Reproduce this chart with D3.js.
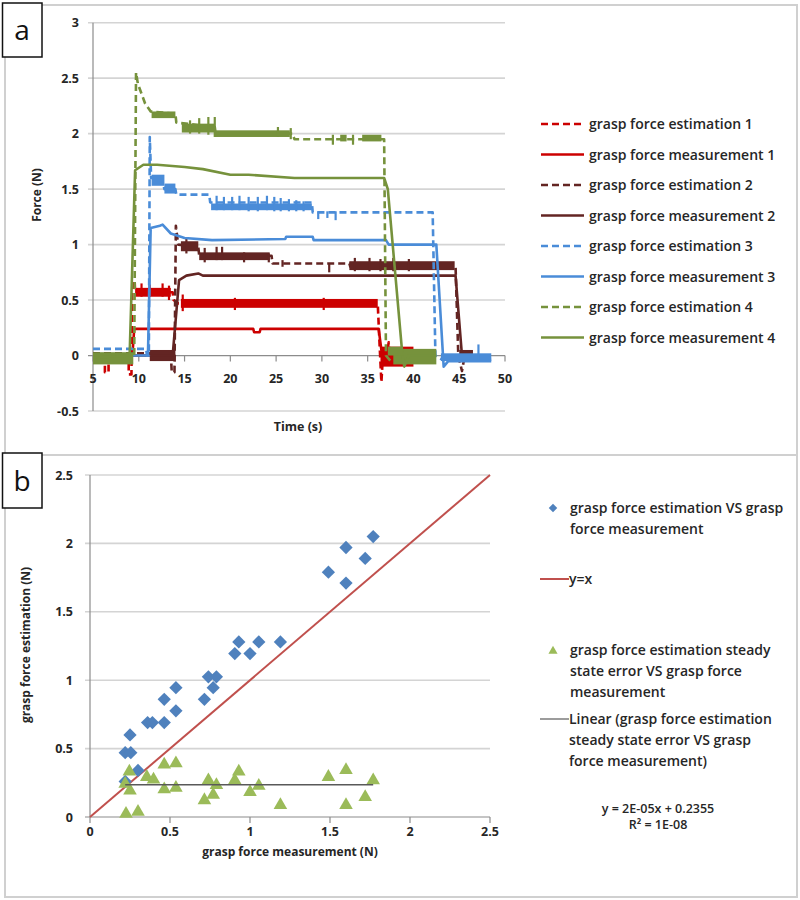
<!DOCTYPE html>
<html><head><meta charset="utf-8">
<script src="https://cdn.jsdelivr.net/npm/d3@7"></script>
<style>body{margin:0;background:#fff}svg{display:block}text{font-family:"Open Sans","Liberation Sans",sans-serif}</style>
</head><body><svg id="c" width="800" height="900"></svg>
<script>
// ---------- Panel a data ----------
const timeTicks = [5,10,15,20,25,30,35,40,45,50];
const forceTicks = [-0.5,0,0.5,1,1.5,2,2.5,3];
const seriesNames = ["grasp force estimation 1","grasp force measurement 1","grasp force estimation 2","grasp force measurement 2","grasp force estimation 3","grasp force measurement 3","grasp force estimation 4","grasp force measurement 4"];
const seriesColors = ["#CC0000","#CC0000","#632523","#632523","#4A8CD8","#4A8CD8","#76923C","#76923C"];
const seriesDashed = [true,false,true,false,true,false,true,false];

const est1 = [[5,0],[6.3,0],[6.3,-0.15],[6.7,-0.15],[6.7,0],[8.9,0],[8.9,-0.17],[9.2,-0.17],[9.3,0.67],[9.55,0.67],[9.6,0.57],[13.7,0.57],[13.8,0.5],[14.3,0.47],[36.1,0.47],[36.3,0.1],[36.5,-0.24],[36.7,0.05],[37,-0.05],[37.3,0.12],[37.6,-0.1],[38,0.05],[38.4,-0.05],[38.8,0.08],[39.2,-0.08],[39.6,0.05],[40,0]];
const meas1 = [[5,0],[9.3,0],[9.5,0.24],[22.5,0.24],[22.6,0.21],[23.2,0.21],[23.3,0.24],[36.2,0.24],[36.5,0.05],[37,0],[37.5,-0.05],[38,0.05],[38.5,-0.03],[39,0.06],[40,0.03]];
const est2 = [[5,0.02],[13.5,0.02],[13.6,-0.15],[13.9,-0.15],[14.05,1.17],[14.3,1.0],[16.5,0.98],[16.6,0.9],[24.5,0.9],[24.6,0.83],[33,0.83],[33.1,0.8],[44.6,0.8],[44.9,0],[45.3,-0.14],[45.6,0],[48,-0.03]];
const meas2 = [[5,0],[13.7,0],[14.4,0.68],[15.2,0.72],[16.5,0.74],[17,0.72],[44.6,0.72],[45.3,0],[45.6,-0.04],[48.2,-0.04]];
const est3 = [[5,0.06],[10.8,0.06],[10.9,0],[11.1,0],[11.2,1.97],[11.35,1.6],[12.5,1.6],[12.8,1.5],[14,1.5],[14.1,1.45],[17.7,1.45],[17.8,1.38],[28.9,1.38],[29,1.29],[42.1,1.29],[42.4,0],[43,-0.03],[48.5,-0.03]];
const meas3 = [[5,0],[11,0],[11.3,1.15],[12.3,1.17],[12.6,1.18],[13.5,1.1],[15,1.06],[18,1.04],[26,1.05],[26.1,1.07],[29,1.07],[29.1,1.04],[37,1.04],[37.3,1.0],[42.5,1.0],[43.3,-0.1],[43.8,-0.05],[48.5,-0.05]];
const est4 = [[5,-0.02],[9.5,-0.02],[9.7,2.55],[9.9,2.45],[10.3,2.36],[10.7,2.27],[11.3,2.2],[14,2.18],[14.1,2.1],[18.3,2.06],[18.4,2.0],[26.8,2.0],[27,1.95],[36.8,1.95],[37,0],[37.5,-0.05],[42.5,0]];
const meas4 = [[5,-0.02],[9.0,0],[9.6,1.67],[10.5,1.72],[12,1.72],[15,1.70],[17,1.68],[20,1.63],[22,1.63],[27,1.60],[36.8,1.60],[37.2,1.5],[38.8,0],[39,-0.1],[39.5,0],[42.5,0]];
const seriesData = [est1,meas1,est2,meas2,est3,meas3,est4,meas4];

// noisy bands: [seriesIndex, tStart, tEnd, low, high]
const noiseBands = [
  [0,9.6,13.5,0.53,0.61],[0,14.6,36.1,0.43,0.51],[0,36.4,40,-0.1,0.08],
  [2,11.2,14,-0.05,0.05],[2,14.6,16.5,0.94,1.03],[2,16.6,24.3,0.86,0.93],[2,33,44.5,0.77,0.85],[2,45,46.5,-0.05,0.05],
  [4,11.4,12.8,1.53,1.63],[4,12.8,14,1.46,1.55],[4,17.9,28.9,1.31,1.37],[4,43,48.5,-0.05,0.02],
  [6,5,9.4,-0.08,0.03],[6,11.4,14,2.14,2.2],[6,14.7,18.3,2.01,2.09],[6,18.3,26.5,1.97,2.03],[6,32,32.7,1.93,1.99],[6,34.4,36.5,1.93,1.99],[6,37.8,42.5,-0.08,0.06],
  [7,37.2,38.8,0,0.08]
];
// noise spikes: [seriesIndex, t, low, high]
const noiseSpikes = [
  [0,10.3,0.53,0.65],[0,11.2,0.53,0.64],[0,12.6,0.53,0.65],[0,13.3,0.5,0.63],[0,14.8,0.4,0.55],[0,20.5,0.41,0.52],[0,30.2,0.41,0.52],
  [2,15.2,0.92,1.06],[2,17.2,0.84,0.97],[2,18.5,0.86,0.98],[2,19.1,0.86,0.98],[2,21.5,0.84,0.93],[2,24.2,0.84,0.92],[2,25.7,0.8,0.86],[2,30.8,0.75,0.83],[2,33.6,0.76,0.88],[2,35.2,0.76,0.88],[2,36.4,0.76,0.87],[2,37.8,0.76,0.88],[2,39.5,0.76,0.87],
  [4,18.5,1.31,1.44],[4,19.3,1.31,1.43],[4,20.2,1.31,1.43],[4,21,1.31,1.44],[4,22,1.3,1.43],[4,23,1.3,1.43],[4,24,1.31,1.44],[4,24.8,1.3,1.43],[4,25.5,1.3,1.42],[4,26.4,1.3,1.41],[4,27.2,1.3,1.4],[4,28,1.3,1.39],[4,29.6,1.23,1.3],[4,30.6,1.24,1.3],[4,31.5,1.22,1.3],[4,47.1,-0.05,0.1],
  [6,15.6,2.0,2.12],[6,16.6,2.0,2.14],[6,17.6,1.99,2.15],[6,18.3,1.97,2.15],[6,25.2,1.97,2.06],[6,26.6,1.95,2.05],[6,31.2,1.9,1.99],[6,33.4,1.9,1.99]
];

// ---------- Panel b data ----------
const measTicks = [0,0.5,1,1.5,2,2.5];
const estTicks = [0,0.5,1,1.5,2,2.5];
const estVsMeasX = [1.60,0.93,1.055,1.19,0.905,1.0,0.74,0.79,0.77,0.715,0.537,0.464,0.537,0.36,0.39,0.464,0.25,0.22,0.255,0.30,0.22,1.77,1.60,1.72,1.49];
const estVsMeasY = [1.71,1.28,1.28,1.28,1.195,1.195,1.025,1.025,0.945,0.86,0.945,0.86,0.776,0.69,0.69,0.69,0.60,0.47,0.47,0.34,0.26,2.05,1.97,1.89,1.79];
const errX = [0.246,0.25,0.225,0.30,0.355,0.397,0.464,0.537,0.464,0.537,0.715,0.74,0.77,0.79,0.905,0.93,1.0,1.055,1.19,1.49,1.60,1.60,1.72,1.77,0.22];
const errY = [0.34,0.20,0.03,0.045,0.30,0.28,0.39,0.40,0.21,0.22,0.13,0.275,0.17,0.24,0.275,0.34,0.19,0.235,0.095,0.30,0.35,0.095,0.153,0.275,0.25];
const identityLine = [[0,0],[2.5,2.5]];
const trendSlope = 2e-5, trendIntercept = 0.2355, trendRange = [0.22,1.77];
const legendB = ["grasp force estimation VS grasp|force measurement","y=x","grasp force estimation steady|state error VS grasp force|measurement","Linear (grasp force estimation|steady state error VS grasp|force measurement)"];
const eqLines = ["y = 2E-05x + 0.2355","R² = 1E-08"];

const svg = d3.select("#c");
const grid = "#D4D4D4", axisCol = "#8C8C8C", txt = "#262626";

function frame(y0,y1,label,ly1){
  svg.append("rect").attr("x",5).attr("y",y0).attr("width",792).attr("height",y1-y0)
    .attr("fill","#fff").attr("stroke","#D0D0D0").attr("stroke-width",2);
  svg.append("rect").attr("x",2.5).attr("y",y0-2).attr("width",39.5).attr("height",ly1-y0+2)
    .attr("fill","#fff").attr("stroke","#111").attr("stroke-width",1.5);
  svg.append("text").attr("x",22).attr("y",(y0+ly1)/2+9).attr("text-anchor","middle")
    .attr("font-size",28).attr("fill","#111").text(label);
}
frame(5,455,"a",57);
frame(455,897,"b",508);

// ---------- Panel a ----------
const xA = d3.scaleLinear().domain([5,50]).range([93,505]);
const yA = d3.scaleLinear().domain([-0.5,3]).range([411,22.7]);
const gA = svg.append("g");
gA.selectAll("line.g").data(forceTicks).join("line")
  .attr("x1",xA(5)-5).attr("x2",xA(50)).attr("y1",d=>yA(d)).attr("y2",d=>yA(d))
  .attr("stroke",d=>d===0?axisCol:grid).attr("stroke-width",d=>d===0?1.2:1.6);
gA.append("line").attr("x1",xA(5)).attr("x2",xA(5)).attr("y1",yA(3)).attr("y2",yA(-0.5)).attr("stroke",axisCol).attr("stroke-width",1.2);
gA.selectAll("line.t").data(timeTicks).join("line")
  .attr("x1",d=>xA(d)).attr("x2",d=>xA(d)).attr("y1",yA(0)).attr("y2",yA(0)+6).attr("stroke",axisCol).attr("stroke-width",1.2);
gA.selectAll("text.y").data(forceTicks).join("text")
  .attr("x",79).attr("y",d=>yA(d)+4.5).attr("text-anchor","end").attr("font-size",12.5).attr("font-weight",700).attr("fill",txt).text(d=>d);
gA.selectAll("text.x").data(timeTicks).join("text")
  .attr("x",d=>xA(d)).attr("y",yA(0)+27).attr("text-anchor","middle").attr("font-size",12.5).attr("font-weight",700).attr("fill",txt).text(d=>d);
svg.append("text").attr("x",298).attr("y",431).attr("text-anchor","middle").attr("font-size",12.5).attr("font-weight",700).attr("fill",txt).text("Time (s)");
svg.append("text").attr("transform","translate(41,195) rotate(-90)").attr("text-anchor","middle").attr("font-size",12).attr("font-weight",700).attr("fill",txt).text("Force (N)");

const line = d3.line().x(d=>xA(d[0])).y(d=>yA(d[1]));
seriesData.forEach((s,i)=>{
  gA.append("path").attr("d",line(s)).attr("fill","none").attr("stroke",seriesColors[i])
    .attr("stroke-width",2.6).attr("stroke-dasharray",seriesDashed[i]?"7,4":null).attr("stroke-linejoin","round");
  gA.selectAll(null).data(noiseBands.filter(b=>b[0]===i)).join("rect")
    .attr("x",b=>xA(b[1])).attr("width",b=>xA(b[2])-xA(b[1]))
    .attr("y",b=>yA(b[4])).attr("height",b=>yA(b[3])-yA(b[4])).attr("fill",seriesColors[i]);
  gA.selectAll(null).data(noiseSpikes.filter(b=>b[0]===i)).join("line")
    .attr("x1",b=>xA(b[1])).attr("x2",b=>xA(b[1]))
    .attr("y1",b=>yA(b[2])).attr("y2",b=>yA(b[3])).attr("stroke",seriesColors[i]).attr("stroke-width",2.2);
});
// legend a
const legA = svg.append("g");
seriesNames.forEach((n,i)=>{
  const y = 124 + i*30.5;
  legA.append("line").attr("x1",541).attr("x2",584).attr("y1",y).attr("y2",y).attr("stroke",seriesColors[i])
    .attr("stroke-width",2.6).attr("stroke-dasharray",seriesDashed[i]?"7,4":null);
  legA.append("text").attr("x",589).attr("y",y+5).attr("font-size",14).attr("font-weight",600).attr("fill",txt).text(n);
});

// ---------- Panel b ----------
const xB = d3.scaleLinear().domain([0,2.5]).range([90,490]);
const yB = d3.scaleLinear().domain([0,2.5]).range([817,475]);
const gB = svg.append("g");
gB.selectAll("line.g").data(estTicks).join("line")
  .attr("x1",xB(0)-5).attr("x2",xB(2.5)).attr("y1",d=>yB(d)).attr("y2",d=>yB(d))
  .attr("stroke",d=>d===0?axisCol:grid).attr("stroke-width",d=>d===0?1.2:1.6);
gB.append("line").attr("x1",xB(0)).attr("x2",xB(0)).attr("y1",yB(2.5)).attr("y2",yB(0)).attr("stroke",axisCol).attr("stroke-width",1.2);
gB.selectAll("line.t").data(measTicks).join("line")
  .attr("x1",d=>xB(d)).attr("x2",d=>xB(d)).attr("y1",yB(0)).attr("y2",yB(0)+6).attr("stroke",axisCol).attr("stroke-width",1.2);
gB.selectAll("text.y").data(estTicks).join("text")
  .attr("x",73).attr("y",d=>yB(d)+4.5).attr("text-anchor","end").attr("font-size",12.5).attr("font-weight",700).attr("fill",txt).text(d=>d);
gB.selectAll("text.x").data(measTicks).join("text")
  .attr("x",d=>xB(d)).attr("y",yB(0)+19).attr("text-anchor","middle").attr("font-size",12.5).attr("font-weight",700).attr("fill",txt).text(d=>d);
svg.append("text").attr("x",290).attr("y",856).attr("text-anchor","middle").attr("font-size",12).attr("font-weight",700).attr("fill",txt).text("grasp force measurement (N)");
svg.append("text").attr("transform","translate(30,645) rotate(-90)").attr("text-anchor","middle").attr("font-size",12).attr("font-weight",700).attr("fill",txt).text("grasp force estimation (N)");

gB.append("path").attr("d",d3.line().x(d=>xB(d[0])).y(d=>yB(d[1]))(identityLine)).attr("stroke","#C0504D").attr("stroke-width",2).attr("fill","none");
const diamond = d3.symbol(d3.symbolSquare,88)();
const tri = d3.symbol(d3.symbolTriangle,80)();
gB.selectAll("path.d").data(estVsMeasX).join("path").attr("d",diamond)
  .attr("transform",(d,i)=>`translate(${xB(d)},${yB(estVsMeasY[i])}) rotate(45)`).attr("fill","#4F81BD");
gB.selectAll("path.tr").data(errX).join("path").attr("d",tri)
  .attr("transform",(d,i)=>`translate(${xB(d)},${yB(errY[i])+1})`).attr("fill","#9BBB59");
gB.append("line").attr("x1",xB(trendRange[0])).attr("x2",xB(trendRange[1]))
  .attr("y1",yB(trendIntercept+trendSlope*trendRange[0])).attr("y2",yB(trendIntercept+trendSlope*trendRange[1]))
  .attr("stroke","#595959").attr("stroke-width",1.5);

// legend b
const legB = svg.append("g");
const legY = [508,579,650,719];
legB.append("path").attr("d",d3.symbol(d3.symbolSquare,36)()).attr("transform",`translate(553,${legY[0]}) rotate(45)`).attr("fill","#4F81BD");
legB.append("line").attr("x1",540).attr("x2",569).attr("y1",legY[1]).attr("y2",legY[1]).attr("stroke","#C0504D").attr("stroke-width",2);
legB.append("path").attr("d",d3.symbol(d3.symbolTriangle,36)()).attr("transform",`translate(553,${legY[2]+1})`).attr("fill","#9BBB59");
legB.append("line").attr("x1",540).attr("x2",569).attr("y1",legY[3]).attr("y2",legY[3]).attr("stroke","#595959").attr("stroke-width",1.2);
legendB.forEach((t,i)=>{
  const tx = i===1||i===3 ? 569 : 570;
  t.split("|").forEach((ln,j)=>{
    legB.append("text").attr("x",tx).attr("y",legY[i]+5+j*21).attr("font-size",14).attr("font-weight",600).attr("fill",txt).text(ln);
  });
});
eqLines.forEach((t,i)=>{
  legB.append("text").attr("x",658).attr("y",813+i*16).attr("text-anchor","middle").attr("font-size",12.5).attr("font-weight",600).attr("fill",txt).text(t);
});
</script></body></html>
